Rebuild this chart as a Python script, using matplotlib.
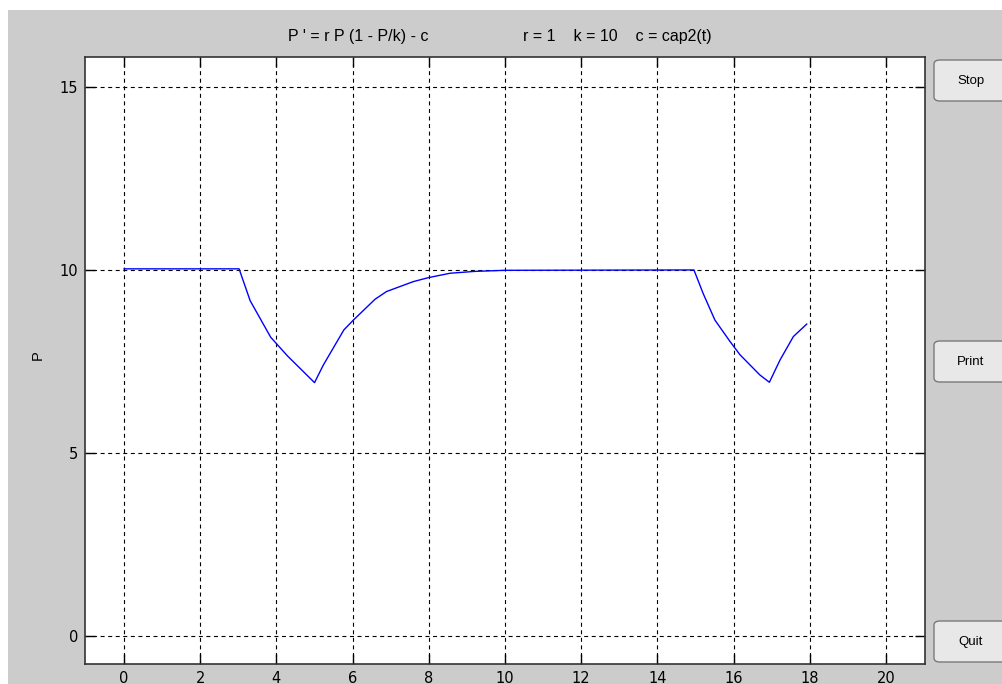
import numpy as np
import matplotlib
matplotlib.use('Agg')
import matplotlib.pyplot as plt
from matplotlib.patches import FancyBboxPatch, Rectangle

# curve (t, P)
t_vals = [0.0, 3.02, 3.31, 3.85, 4.29, 5.0, 5.23, 5.77, 6.02, 6.28, 6.59, 6.89,
          7.59, 7.99, 8.56, 9.2, 10.0, 14.96, 15.2, 15.51, 15.91, 16.17, 16.69,
          16.94, 17.22, 17.57, 17.92]
p_vals = [10.03, 10.03, 9.16, 8.16, 7.65, 6.92, 7.40, 8.36, 8.63, 8.89, 9.20, 9.41,
          9.68, 9.79, 9.91, 9.96, 9.99, 10.0, 9.36, 8.63, 8.04, 7.68, 7.13,
          6.93, 7.54, 8.18, 8.52]

x_ticks = list(range(0, 21, 2))
y_ticks = [0, 5, 10, 15]
title_left = "P ' = r P (1 - P/k) - c"
title_right = "r = 1    k = 10    c = cap2(t)"
buttons = ["Stop", "Print", "Quit"]

W, H = 1003, 684
fig = plt.figure(figsize=(W/100, H/100), dpi=100)
fig.patch.set_facecolor('white')
# grey window area (white strip on top and left)
fig.add_artist(Rectangle((8/W, 0), 1, 1 - 10/H, transform=fig.transFigure,
                         facecolor='#cccccc', edgecolor='none', zorder=0))

ax = fig.add_axes([85/W, 20/H, 840/W, 607/H])
ax.set_facecolor('white')
ax.plot(t_vals, p_vals, color='#0000ff', lw=1.0, zorder=3)

ax.set_xlim(-1.025, 21.025)
ax.set_ylim(-0.77, 15.82)
ax.set_xticks(x_ticks)
ax.set_yticks(y_ticks)
ax.grid(True, color='black', lw=0.8, linestyle=(0, (3.6, 3.2)))
ax.tick_params(direction='in', length=7.5, width=1, top=True, right=True,
               labelsize=10.5, colors='black')
ax.tick_params(axis='x', pad=5)
ax.tick_params(axis='y', pad=5)
for s in ax.spines.values():
    s.set_color('#333333')
    s.set_linewidth(1.2)

fig.text(358/W, 1 - 37/H, title_left, ha='center', va='center', fontsize=11.5,
         family='Liberation Sans')
fig.text(617/W, 1 - 37/H, title_right, ha='center', va='center', fontsize=11.5,
         family='Liberation Sans')
fig.text(38/W, 1 - 355/H, 'P', ha='center', va='center', rotation=90,
         fontsize=10.5, family='Liberation Sans')

# the gui buttons on the right
btn_y = [60, 341, 621]
for name, y in zip(buttons, btn_y):
    b = FancyBboxPatch((934/W, 1 - (y + 41)/H), 90/W, 41/H,
                       boxstyle='round,pad=0,rounding_size=0.006',
                       transform=fig.transFigure, facecolor='#e8e8e8',
                       edgecolor='#7a7a7a', lw=1)
    fig.add_artist(b)
    fig.text(971/W, 1 - (y + 21)/H, name, ha='center', va='center',
             fontsize=9.5, family='Liberation Sans')

fig.savefig('out.png', dpi=100, facecolor=fig.get_facecolor())
